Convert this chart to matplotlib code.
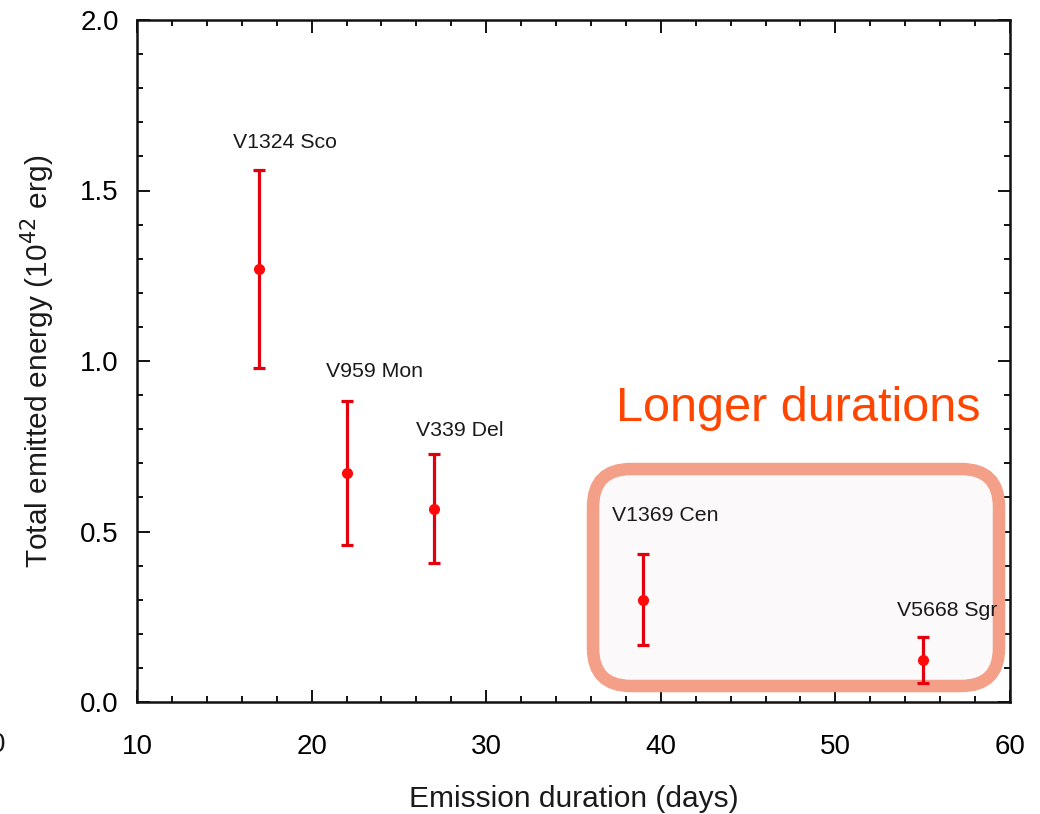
import matplotlib
matplotlib.use("Agg")

import matplotlib.pyplot as plt
from matplotlib.patches import FancyBboxPatch
from matplotlib.ticker import MultipleLocator, FormatStrFormatter
from matplotlib.transforms import IdentityTransform

plt.rcParams["font.family"] = ["Liberation Sans", "DejaVu Sans"]

# ================= DATA =================
novae = ["V1324 Sco", "V959 Mon", "V339 Del", "V1369 Cen", "V5668 Sgr"]
duration = [17, 22, 27, 39, 55]                 # days
energy = [1.27, 0.672, 0.566, 0.299, 0.123]    # 1e42 erg
err_low = [0.29, 0.212, 0.158, 0.132, 0.067]
err_high = [0.29, 0.211, 0.161, 0.135, 0.067]

# label offsets from the top of each error bar (pixels)
label_dx = [26, 28, 26, 22, 24]
label_dy = [28, 29, 24, 39, 27]

# ================= PLOT SETUP =================
fig = plt.figure(figsize=(10.4, 8.14), dpi=100)
ax = fig.add_axes([137 / 1040, 1 - 702 / 814, 873 / 1040, 682 / 814])

ax.errorbar(duration, energy, yerr=[err_low, err_high], fmt="o",
            color="#ff0a0a", ecolor="#e2000c", markersize=7,
            elinewidth=2.3, capsize=4.5, capthick=2.3, zorder=3)

for name, x, y, up, dx, dy in zip(novae, duration, energy, err_high, label_dx, label_dy):
    ax.annotate(name, xy=(x, y + up), xytext=(dx * 0.72, dy * 0.72),
                textcoords="offset points", ha="center", va="center",
                fontsize=15.3, color="#1a1a1a", zorder=6)

ax.set_xlim(10, 60)
ax.set_ylim(0, 2.0)
ax.xaxis.set_major_locator(MultipleLocator(10))
ax.xaxis.set_minor_locator(MultipleLocator(2))
ax.yaxis.set_major_locator(MultipleLocator(0.5))
ax.yaxis.set_minor_locator(MultipleLocator(0.1))
ax.yaxis.set_major_formatter(FormatStrFormatter("%.1f"))

ax.tick_params(which="both", direction="in", top=True, right=True, width=1.4, color="#111")
ax.tick_params(which="major", length=9)
ax.tick_params(which="minor", length=4.5)
ax.tick_params(axis="x", which="major", labelsize=20, pad=23)
ax.tick_params(axis="y", which="major", labelsize=20, pad=13)
for s in ax.spines.values():
    s.set_linewidth(1.8)
    s.set_color("#111")

ax.set_xlabel("Emission duration (days)", fontsize=21.5, labelpad=18, color="#1a1a1a")
ax.set_ylabel("Total emitted energy (10$^{42}$ erg)", fontsize=21.5, labelpad=17, color="#1a1a1a")

# ================= HIGHLIGHT BOX =================
box = FancyBboxPatch((593, 814 - 686), 406, 217,
                     boxstyle="round,pad=0,rounding_size=38",
                     transform=IdentityTransform(), facecolor="#fbf9fa",
                     edgecolor="#f4a088", linewidth=9, zorder=2, clip_on=False)
ax.add_patch(box)

fig.text(798 / 1040, 1 - 408 / 814, "Longer durations", fontsize=35,
         color="#ff4500", ha="center", va="center")

# cropped tick label from neighbouring panel
fig.text(-10 / 1040, 1 - 745 / 814, "0", fontsize=20, color="#1a1a1a",
         ha="left", va="center")

fig.savefig("out.png", dpi=100)
